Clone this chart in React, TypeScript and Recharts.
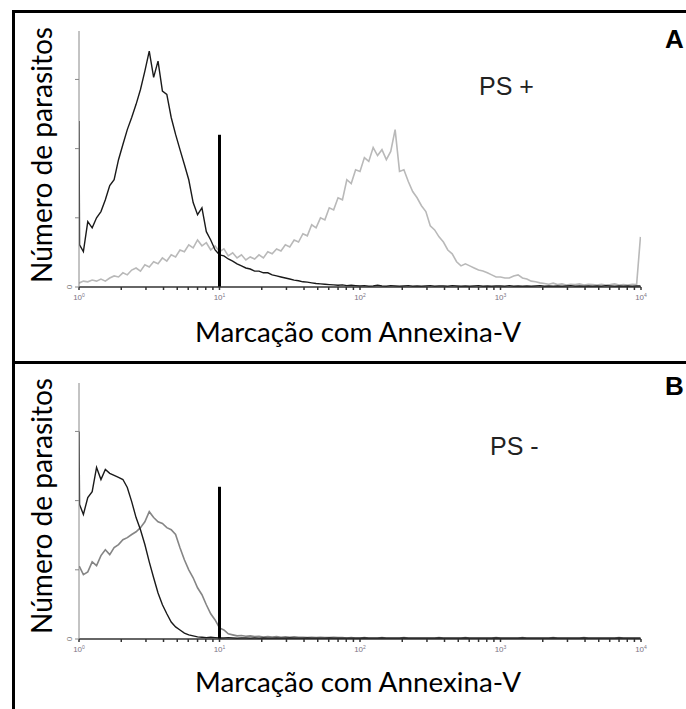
import React from "react";
import { LineChart, Line, XAxis, YAxis, ReferenceLine, Label } from "recharts";

// canais do citômetro (escala log, 256 canais por década)
const channels = [
  0, 1, 8, 16, 24, 32, 40, 48, 56, 64, 72, 80, 88, 96, 104, 112, 120, 128, 136, 144, 152, 160,
  168, 176, 184, 192, 200, 208, 216, 224, 232, 240, 248, 256, 264, 272, 280, 288, 296, 304, 312,
  320, 328, 336, 344, 352, 360, 368, 376, 384, 392, 400, 408, 416, 424, 432, 440, 448, 456, 464,
  472, 480, 488, 496, 504, 512, 520, 528, 536, 544, 552, 560, 568, 576, 584, 592, 600, 608, 616,
  624, 632, 640, 648, 656, 664, 672, 680, 688, 696, 704, 712, 720, 728, 736, 744, 752, 760, 768,
  776, 784, 792, 800, 808, 816, 824, 832, 840, 848, 856, 864, 872, 880, 888, 896, 904, 912, 920,
  928, 936, 944, 952, 960, 968, 976, 984, 992, 1000, 1008, 1016, 1023,
];

// painel A (PS +)
const aBlack = [
  48, 12.2,
  10.2, 18.9, 17.1, 20, 21.8, 25.2, 29.3, 31, 36.8, 41.2,
  45.5, 49, 52.8, 57.1, 62.4, 68.2, 60.6, 65.3, 56.6, 55.7,
  49, 44.1, 39.7, 35.4, 31, 24.4, 20.9, 22.9, 16, 13.6,
  10.7, 9.3, 9, 8.1, 7.5, 6.7, 6.1, 5.5, 5.2, 4.6,
  4.6, 4.1, 4.1, 3.5, 3.2, 2.9, 2.6, 2.3, 2.0, 1.8,
  1.5, 1.4, 1.2, 1.0, 0.9, 0.8, 0.7, 0.6, 0.5, 0.6,
  0.4, 0.5, 0.4,
  0.3, 0.4, 0.2, 0.3, 0.5, 0.3, 0.2, 0.4, 0.3, 0.2, 0.3, 0.4, 0.2, 0.3, 0.2, 0.3,
  0.4, 0.2, 0.3, 0.3, 0.2, 0.4, 0.3, 0.2, 0.3, 0.2, 0.3, 0.4, 0.2, 0.3, 0.2, 0.3,
  0.3, 0.2, 0.4, 0.2, 0.3, 0.2, 0.3, 0.2, 0.3, 0.4, 0.2, 0.3, 0.2, 0.3, 0.2, 0.3,
  0.4, 0.2, 0.3, 0.2, 0.3, 0.2, 0.3, 0.2, 0.4, 0.3, 0.2, 0.3, 0.2, 0.3, 0.2, 0.3,
  0.3,
];
const aGrey = [
  1.2, 1.2,
  1.7, 1.5, 2, 1.7, 2.3, 1.7, 2.6, 3.2, 2.9, 4.1,
  3.5, 4.9, 5.5, 4.6, 6.4, 5.8, 7.3, 6.7, 8.4, 7.5,
  9.3, 8.7, 10.7, 10.2, 12.2, 11.3, 13.6, 11.9, 12.8, 10.7,
  11.9, 10.2, 11, 9, 9.9, 8.4, 9.3, 7.8, 8.7, 8.1,
  9.3, 8.4, 10.2, 9.6, 11, 10.4, 12.2, 11.6, 13.6, 13,
  15.4, 14.8, 18, 17.1, 20, 19.4, 22.9, 22.3, 25.8, 25.2,
  31, 29.9, 33.9,
  33.4, 37.4, 36.3, 40.3, 38, 39.7, 36.8, 39.2, 45.5, 33.4,
  33.9, 30.5, 27.6, 25.8, 23.5, 21.8, 17.7, 16.5, 14.5, 13,
  10.7, 9.6, 7.3, 6.1, 6.7, 6.1, 5.5, 4.9, 4.6, 4.1,
  3.5, 2.9, 2.9, 2.6, 2.6, 3.2, 3.5, 2.6, 2.3, 1.7,
  1.5, 1.2, 1.0, 0.8, 1.1, 0.7, 0.9, 0.6, 0.8, 0.7,
  0.9, 0.6, 0.8, 0.7, 0.6, 0.8, 0.6, 0.7, 0.9, 0.6,
  0.7, 0.6, 0.8, 0.7,
  14.5,
];

// painel B (PS -)
const bBlack = [
  60, 38.9,
  36, 40.9, 42.6, 49.6, 46.1, 49, 47.9, 47.3, 46.7, 46.1,
  43.8, 39.7, 35.1, 31.6, 27.3, 22.3, 17.7, 13.3, 9.9, 7.3,
  4.9, 3.5, 2.6, 1.7, 1.2, 0.9, 0.6, 0.5, 0.4, 0.5,
  0.4, 0.3, 0.3, 0.4, 0.3, 0.2, 0.3, 0.3, 0.2, 0.3,
  0.2, 0.3, 0.2, 0.2, 0.3, 0.2, 0.2, 0.3, 0.2, 0.2,
  0.2, 0.3, 0.2, 0.2, 0.2, 0.2, 0.3, 0.2, 0.2, 0.2,
  0.2, 0.2, 0.2,
  0.2, 0.3, 0.2, 0.2, 0.2, 0.3, 0.2, 0.2, 0.2, 0.2, 0.3, 0.2, 0.2, 0.2, 0.2, 0.2,
  0.2, 0.2, 0.3, 0.2, 0.2, 0.2, 0.2, 0.2, 0.3, 0.2, 0.2, 0.2, 0.2, 0.2, 0.2, 0.3,
  0.2, 0.2, 0.2, 0.2, 0.2, 0.3, 0.2, 0.2, 0.2, 0.2, 0.2, 0.2, 0.3, 0.2, 0.2, 0.2,
  0.2, 0.2, 0.2, 0.3, 0.2, 0.2, 0.2, 0.2, 0.2, 0.2, 0.2, 0.3, 0.2, 0.2, 0.2, 0.2,
  0.2,
];
const bGrey = [
  20.9, 20.9,
  18.6, 19.4, 22.3, 21.2, 24.1, 25.8, 24.4, 26.4, 27.3, 28.7,
  29.3, 30.2, 31, 32.2, 33.9, 36.8, 35.1, 33.9, 33.4, 32.2,
  31.6, 30.2, 26.4, 22.9, 20, 17.7, 14.8, 12.8, 9.9, 7.3,
  5.5, 3.2, 2.6, 1.5, 1.2, 0.9, 1.0, 0.8, 0.9, 0.7,
  0.8, 0.6, 0.7, 0.6, 0.7, 0.5, 0.6, 0.5, 0.6, 0.5,
  0.5, 0.4, 0.5, 0.4, 0.5, 0.4, 0.4, 0.5, 0.4, 0.4,
  0.3, 0.4, 0.3,
  0.3, 0.4, 0.3, 0.3, 0.3, 0.4, 0.3, 0.3, 0.3, 0.3, 0.4, 0.3, 0.3, 0.3, 0.3, 0.3,
  0.3, 0.3, 0.4, 0.3, 0.3, 0.3, 0.3, 0.3, 0.4, 0.3, 0.3, 0.3, 0.3, 0.3, 0.3, 0.4,
  0.3, 0.3, 0.3, 0.3, 0.3, 0.4, 0.3, 0.3, 0.3, 0.3, 0.3, 0.3, 0.4, 0.3, 0.3, 0.3,
  0.3, 0.3, 0.3, 0.4, 0.3, 0.3, 0.3, 0.3, 0.3, 0.3, 0.3, 0.4, 0.3, 0.3, 0.3, 0.3,
  0.3,
];

const decadeTicks = [0, 256, 512, 768, 1024];
const decadeExp = ["0", "1", "2", "3", "4"];
const minorTicks = decadeTicks.slice(0, 4).flatMap((d) =>
  [2, 3, 4, 5, 6, 7, 8, 9].map((k) => d + Math.round(256 * Math.log10(k)))
);
const xTicks = [...decadeTicks, ...minorTicks].sort((a, b) => a - b);
const yTicks = [0, 20, 40, 60];
const gateChannel = 256;
const gateHeight = 44;

const panelA = channels.map((ch, i) => ({ ch, black: aBlack[i], grey: aGrey[i] }));
const panelB = channels.map((ch, i) => ({ ch, black: bBlack[i], grey: bGrey[i] }));

const XTick = ({ x, y, payload }: any) => {
  const i = decadeTicks.indexOf(payload.value);
  if (i < 0) return null;
  return (
    <text x={x} y={y + 8} textAnchor="middle" fontSize={8} fill="#7b7384" fontFamily="Liberation Sans">
      10<tspan dy={-3} fontSize={5}>{decadeExp[i]}</tspan>
    </text>
  );
};

const YTick = ({ x, y, payload }: any) => {
  if (payload.value !== 0) return null;
  return (
    <text x={x - 1} y={y} transform={`rotate(-90 ${x - 1} ${y})`} textAnchor="middle" fontSize={8} fill="#777" fontFamily="Liberation Sans">
      0
    </text>
  );
};

function Panel({ data, height, top, greyColor, mTop, mBottom, xLabelDy, tag, tagY, ps, psX, psY, yLabelShift }: any) {
  const xLabel = ({ viewBox }: any) => (
    <text
      x={viewBox.x + viewBox.width / 2 - 2}
      y={viewBox.y + xLabelDy}
      textAnchor="middle"
      fontFamily="Lato"
      fontSize={27}
      textLength={326}
      lengthAdjust="spacingAndGlyphs"
      fill="#000"
    >
      Marcação com Annexina-V
    </text>
  );
  const yLabel = ({ viewBox }: any) => {
    const cx = 52;
    const cy = viewBox.y + viewBox.height / 2 + yLabelShift;
    return (
      <text
        x={cx}
        y={cy}
        transform={`rotate(-90 ${cx} ${cy})`}
        textAnchor="middle"
        fontFamily="Lato"
        fontSize={28}
        textLength={256}
        lengthAdjust="spacingAndGlyphs"
        fill="#000"
      >
        Número de parasitos
      </text>
    );
  };
  return (
    <div style={{ position: "absolute", left: 0, top, width: 686, height }}>
      <LineChart width={686} height={height} data={data} margin={{ top: mTop, right: 45, bottom: mBottom, left: 49 }}>
        <XAxis
          dataKey="ch"
          type="number"
          domain={[0, 1024]}
          ticks={xTicks}
          interval={0}
          height={20}
          tick={<XTick />}
          tickSize={3}
          stroke="#333"
          strokeWidth={1.5}
          allowDataOverflow
        >
          <Label content={xLabel} />
        </XAxis>
        <YAxis
          type="number"
          domain={[0, 74]}
          ticks={yTicks}
          width={30}
          tick={<YTick />}
          tickSize={4}
          stroke="#888"
          allowDataOverflow
        >
          <Label content={yLabel} />
        </YAxis>
        <Line type="linear" dataKey="grey" stroke={greyColor} strokeWidth={1.6} dot={false} isAnimationActive={false} />
        <Line type="linear" dataKey="black" stroke="#1a1a1a" strokeWidth={1.4} dot={false} isAnimationActive={false} />
        <ReferenceLine
          segment={[{ x: gateChannel, y: 0 }, { x: gateChannel, y: gateHeight }]}
          stroke="#000"
          strokeWidth={3}
        />
      </LineChart>
      <svg width={686} height={height} style={{ position: "absolute", left: 0, top: 0, pointerEvents: "none" }}>
        <text x={psX} y={psY} fontFamily="Liberation Sans" fontSize={25} fill="#222">{ps}</text>
        <text x={665} y={tagY} fontFamily="Liberation Sans" fontWeight="bold" fontSize={26} fill="#000">{tag}</text>
      </svg>
    </div>
  );
}

export default function App() {
  return (
    <div style={{ position: "absolute", left: 0, top: 0, width: 686, height: 709, overflow: "hidden", background: "#fff" }}>
      <div style={{ position: "absolute", left: 12, top: 10, width: 700, height: 354, border: "3px solid #000", boxSizing: "border-box" }} />
      <div style={{ position: "absolute", left: 12, top: 361, width: 700, height: 400, border: "3px solid #000", boxSizing: "border-box" }} />
      <Panel data={panelA} height={361} top={0} greyColor="#b9b9b9" mTop={31} mBottom={54} xLabelDy={55}
        tag="A" tagY={48} ps="PS +" psX={479} psY={95} yLabelShift={-4} />
      <Panel data={panelB} height={348} top={361} greyColor="#858585" mTop={22} mBottom={50} xLabelDy={53}
        tag="B" tagY={34} ps="PS -" psX={490} psY={94} yLabelShift={-5} />
    </div>
  );
}
